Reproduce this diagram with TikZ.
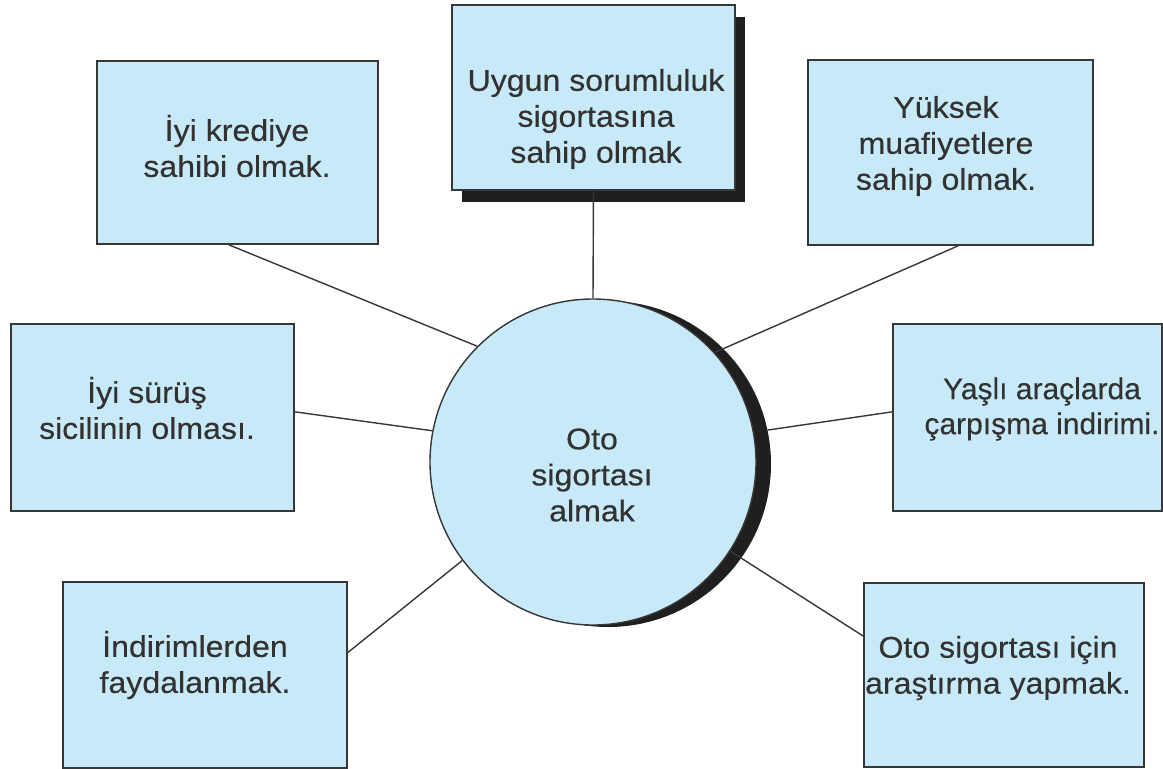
\documentclass[tikz,border=0pt]{standalone}
\usepackage{fontspec}
\setmainfont[FakeStretch=1.07,FakeBold=0.3]{Liberation Sans}
\newfontfamily\plainfont[FakeBold=0.3]{Liberation Sans}
\usetikzlibrary{calc}
\definecolor{boxfill}{RGB}{200,233,248}
\definecolor{edge}{RGB}{55,55,55}
\definecolor{ink}{RGB}{50,50,50}
\begin{document}
\begin{tikzpicture}[x=1pt,y=-1pt,
  box/.style={draw=edge,line width=1.8pt,fill=boxfill,inner sep=0pt},
  txt/.style={text=ink,align=center,font=\fontsize{30}{36}\selectfont,inner sep=0pt},
  link/.style={draw=edge,line width=1.4pt}]
\useasboundingbox (0,0) rectangle (1163,769);
% shadows
\node[fill=black!88,minimum width=283pt,minimum height=185pt,inner sep=0pt] (s2) at (603.5,109.5) {};
\node[circle,fill=black!88,minimum size=326pt,inner sep=0pt] (sh) at (608,464) {};
% boxes
\node[box,minimum width=281pt,minimum height=183pt] (b1) at (237.5,152.5) {};
\node[box,minimum width=283pt,minimum height=185pt] (b2) at (593.5,97.5) {};
\node[box,minimum width=285pt,minimum height=185pt] (b3) at (950.5,152.5) {};
\node[box,minimum width=283pt,minimum height=187pt] (b4) at (152.5,417.5) {};
\node[box,minimum width=269pt,minimum height=187pt] (b5) at (1027.5,417.5) {};
\node[box,minimum width=284pt,minimum height=186pt] (b6) at (205,675) {};
\node[box,minimum width=280pt,minimum height=184pt] (b7) at (1004,675) {};
% circle
\node[circle,draw=edge,line width=1.4pt,fill=boxfill,minimum size=326pt,inner sep=0pt] (c) at (593,462) {};
% connectors
\draw[link] ($(b1.south west)!0.47!(b1.south east)$) -- (c.135.5);
\draw[link] (b2.south) -- (c.90);
\draw[link] ($(b3.south west)!0.526!(b3.south east)$) -- (c.42.7);
\draw[link] ($(b4.north east)!0.47!(b4.south east)$) -- (c.169.8);
\draw[link] ($(b5.north west)!0.47!(b5.south west)$) -- (sh.12);
\draw[link] ($(b6.north east)!0.38!(b6.south east)$) -- (c.217.6);
\draw[link] ($(b7.north west)!0.29!(b7.south west)$) -- (c.327);
% texts
\node[txt] (t1) at (237,146) {İyi krediye\\sahibi olmak.};
\node[txt] (t2) at (596,119) {Uygun sorumluluk\\sigortasına\\sahip olmak};
\node[txt] (t3) at (946,146) {Yüksek\\muafiyetlere\\sahip olmak.};
\node[txt] (t4) at (147,408) {İyi sürüş\\sicilinin olması.};
\node[txt,font=\plainfont\fontsize{30}{35}\selectfont] (t5) at (1042,409) {Yaşlı araçlarda\\çarpışma indirimi.};
\node[txt] (t6) at (195,665) {İndirimlerden\\faydalanmak.};
\node[txt] (t7) at (998,668) {Oto sigortası için\\araştırma yapmak.};
\node[txt] (tc) at (592,475) {Oto\\sigortası\\almak};
\end{tikzpicture}
\end{document}
